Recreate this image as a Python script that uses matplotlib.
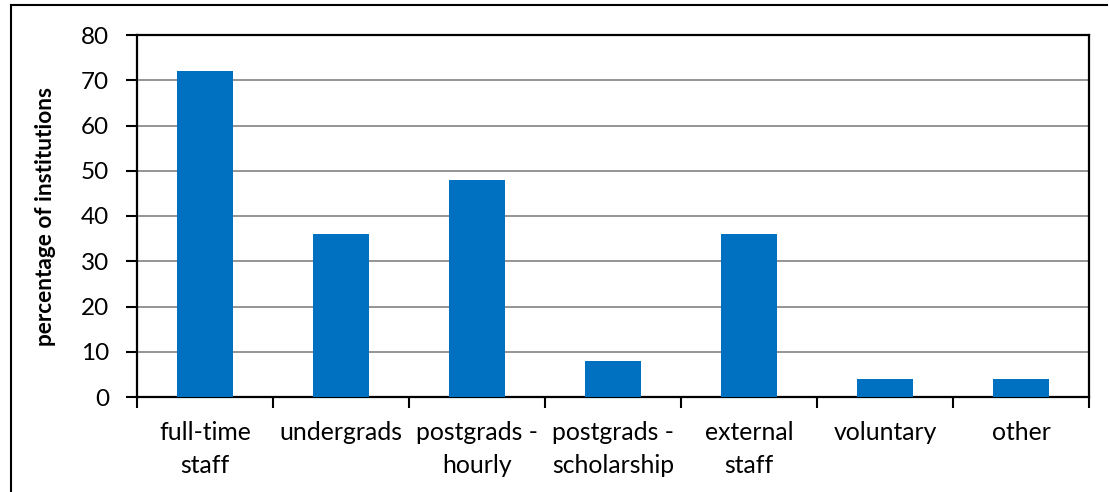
import matplotlib.pyplot as plt
from matplotlib.lines import Line2D

categories = ["full-time\nstaff", "undergrads", "postgrads -\nhourly", "postgrads -\nscholarship",
              "external\nstaff", "voluntary", "other"]
values = [72, 36, 48, 8, 36, 4, 4]
y_ticks = [0, 10, 20, 30, 40, 50, 60, 70, 80]

plt.rcParams["font.family"] = ["Lato", "DejaVu Sans"]

fig = plt.figure(figsize=(11.09, 4.92), dpi=100)
ax = fig.add_axes([137 / 1109, 95 / 492, 952 / 1109, 362 / 492])

x = list(range(len(categories)))
ax.bar(x, values, width=0.41, color="#0070C0", zorder=3)

ax.set_xlim(-0.5, len(categories) - 0.5)
ax.set_ylim(0, 80)
ax.set_yticks(y_ticks)
ax.set_xticks([i - 0.5 for i in range(len(categories) + 1)], minor=False)
ax.set_xticklabels([])
ax.set_xticks(x, minor=True)
ax.set_xticklabels(categories, minor=True, fontsize=17.8, linespacing=1.55)
ax.tick_params(axis="x", which="minor", length=0, pad=17)
ax.tick_params(axis="x", which="major", length=8, width=1.5, direction="out")
ax.tick_params(axis="y", length=8, width=1.5, direction="out", labelsize=17.5, pad=12)

ax.yaxis.grid(True, color="#8c8c8c", linewidth=1.3, zorder=0)
for s in ax.spines.values():
    s.set_linewidth(1.6)
    s.set_color("black")

ax.set_ylabel("percentage of institutions", fontsize=16.3, fontweight="bold", labelpad=18)

# outer chart border (left and top edges visible)
fig.add_artist(Line2D([11 / 1109, 11 / 1109], [0, 1 - 5 / 492], transform=fig.transFigure,
                      color="black", linewidth=1.5))
fig.add_artist(Line2D([11 / 1109, 1107 / 1109], [1 - 5 / 492, 1 - 5 / 492], transform=fig.transFigure,
                      color="black", linewidth=1.5))

fig.savefig("out.png", dpi=100)
